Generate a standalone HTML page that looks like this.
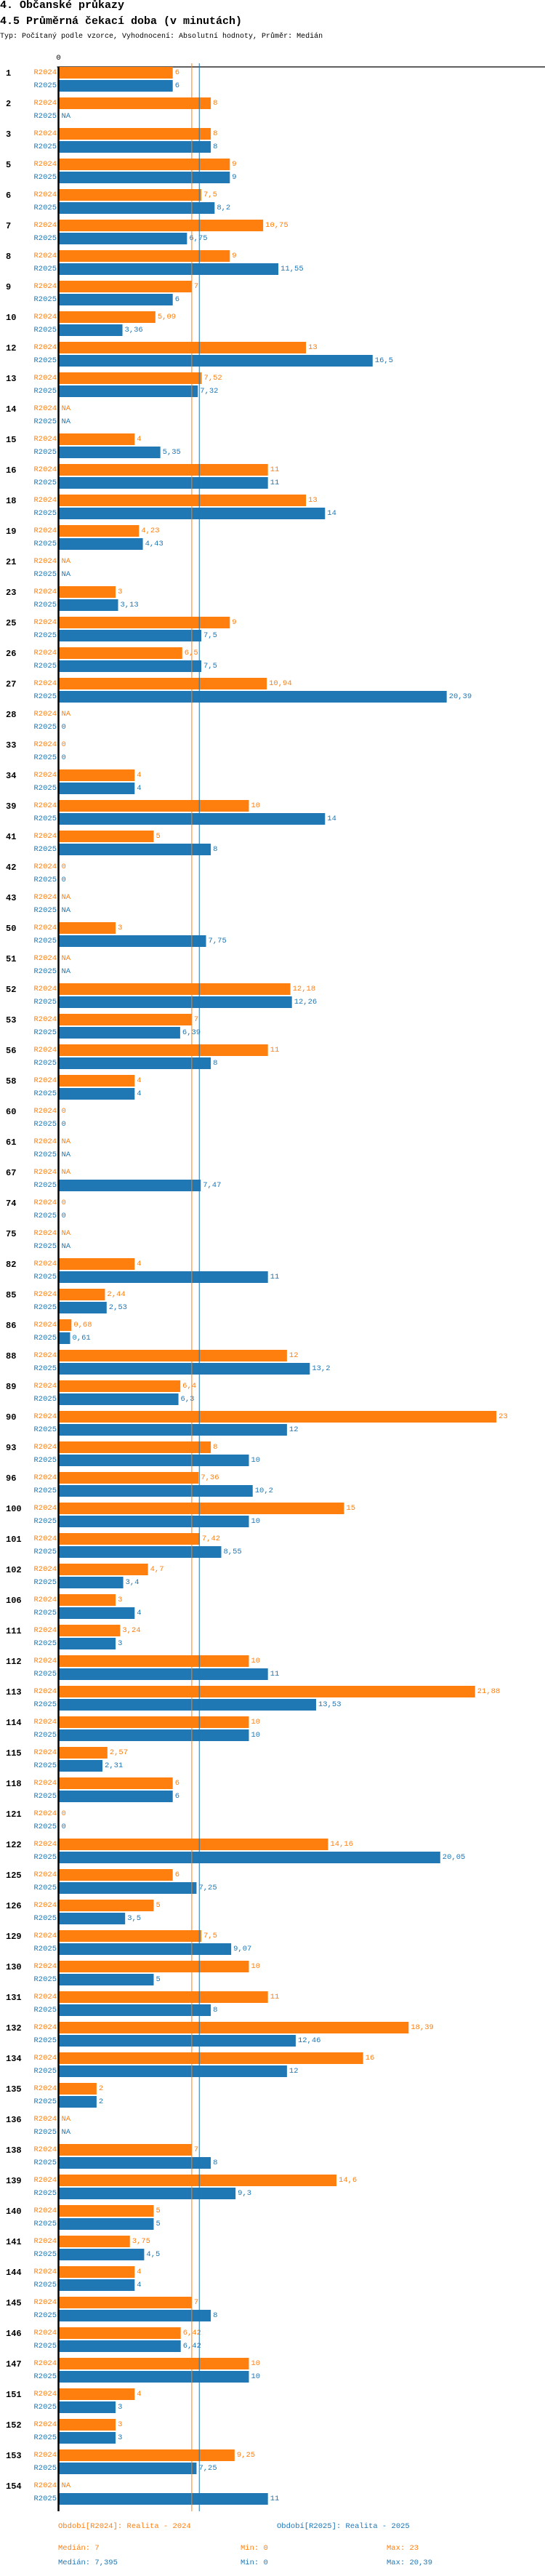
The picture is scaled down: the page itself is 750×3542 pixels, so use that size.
<!DOCTYPE html>
<html><head><meta charset="utf-8">
<style>
html,body{margin:0;padding:0;background:#fff;}
body{width:750px;height:3542px;overflow:hidden;position:relative;font-family:"Liberation Mono",monospace;}
.t{position:absolute;left:0;white-space:nowrap;}
</style></head>
<body>
<div class="t" style="top:-1px;font-size:15px;font-weight:bold;">4. Občanské průkazy</div>
<div class="t" style="top:21px;font-size:15px;font-weight:bold;">4.5 Průměrná čekací doba (v minutách)</div>
<div class="t" style="top:45px;font-size:10px;">Typ: Počítaný podle vzorce, Vyhodnocení: Absolutní hodnoty, Průměr: Medián</div>
<svg id="chart" width="750" height="3542" style="position:absolute;left:0;top:0;" xmlns="http://www.w3.org/2000/svg"></svg>
<script>
const categories = ["1","2","3","5","6","7","8","9","10","12","13","14","15","16","18","19","21","23","25","26","27","28","33","34","39","41","42","43","50","51","52","53","56","58","60","61","67","74","75","82","85","86","88","89","90","93","96","100","101","102","106","111","112","113","114","115","118","121","122","125","126","129","130","131","132","134","135","136","138","139","140","141","144","145","146","147","151","152","153","154"];
const values2024 = [6,8,8,9,7.5,10.75,9,7,5.09,13,7.52,null,4,11,13,4.23,null,3,9,6.5,10.94,null,0,4,10,5,0,null,3,null,12.18,7,11,4,0,null,null,0,null,4,2.44,0.68,12,6.4,23,8,7.36,15,7.42,4.7,3,3.24,10,21.88,10,2.57,6,0,14.16,6,5,7.5,10,11,18.39,16,2,null,7,14.6,5,3.75,4,7,6.42,10,4,3,9.25,null];
const values2025 = [6,null,8,9,8.2,6.75,11.55,6,3.36,16.5,7.32,null,5.35,11,14,4.43,null,3.13,7.5,7.5,20.39,0,0,4,14,8,0,null,7.75,null,12.26,6.39,8,4,0,null,7.47,0,null,11,2.53,0.61,13.2,6.3,12,10,10.2,10,8.55,3.4,4,3,11,13.53,10,2.31,6,0,20.05,7.25,3.5,9.07,5,8,12.46,12,2,null,8,9.3,5,4.5,4,8,6.42,10,3,3,7.25,11];
const seriesNames = ["R2024","R2025"];
const median2024 = 7, median2025 = 7.395;
const min2024 = 0, min2025 = 0, max2024 = 23, max2025 = 20.39;

const svg = document.getElementById('chart');
const NS = 'http://www.w3.org/2000/svg';
const colors = ['#ff7f0e','#1f77b4'];
const x0 = 80.5, unit = 26.2;
const xScale = v => x0 + v * unit;
const yCenter = i => 101 + 42 * i;
const fmt = v => v === null ? 'NA' : String(v).replace('.', ',');
function mk(tag, attrs){const e=document.createElementNS(NS,tag);for(const k in attrs)e.setAttribute(k,attrs[k]);svg.appendChild(e);return e;}
function txt(x,y,s,attrs){const e=mk('text',Object.assign({x:x,y:y,'dominant-baseline':'central','font-family':'Liberation Mono, monospace'},attrs));e.textContent=s;return e;}

const bottom = yCenter(categories.length-1) + 34;
// axis
let e = mk('line',{x1:x0-2,y1:92,x2:750,y2:92,stroke:'#000','stroke-width':1.2});


e = txt(x0,80,'0',{'font-size':10.5,'text-anchor':'middle',fill:'#000'});



const series = [values2024, values2025];
categories.forEach((c,i)=>{
  const yc = yCenter(i);
  let g = txt(8,yc,c,{'font-size':12,'font-weight':'bold',fill:'#000'});
  
  
  series.forEach((vals,s)=>{
    const top = yc - 9 + s*18;
    const mid = top + 8;
    let l = txt(78,mid,seriesNames[s],{'font-size':10.5,'text-anchor':'end',fill:colors[s]});
    
    
    const v = vals[i];
    let endX = x0 + 4;
    if (v !== null && v > 0){
      const r = mk('rect',{x:x0,y:top,width:xScale(v)-x0,height:16,fill:colors[s]});
      
      
      endX = xScale(v) + 3;
    }
    const t = txt(endX,mid,fmt(v),{'font-size':10.5,fill:colors[s]});
    
    
  });
});
// median lines
[[median2024,0],[median2025,1]].forEach(([m,s])=>{
  const ln = mk('line',{x1:xScale(m),y1:87,x2:xScale(m),y2:bottom,stroke:colors[s],'stroke-width':1});
  
  
});
e = mk('line',{x1:x0,y1:92,x2:x0,y2:bottom,stroke:'#000','stroke-width':2.5});



// legend
const lg = [
 [80,3474,'Období[R2024]: Realita - 2024',0,'legend-r2024'],
 [381,3474,'Období[R2025]: Realita - 2025',1,'legend-r2025'],
 [80,3504,'Medián: '+fmt(median2024),0,'median-r2024'],
 [331,3504,'Min: '+fmt(min2024),0,'min-r2024'],
 [532,3504,'Max: '+fmt(max2024),0,'max-r2024'],
 [80,3524,'Medián: '+fmt(median2025),1,'median-r2025'],
 [331,3524,'Min: '+fmt(min2025),1,'min-r2025'],
 [532,3524,'Max: '+fmt(max2025),1,'max-r2025']
];
lg.forEach(([x,y,s,c,n])=>{
  const t = txt(x,y,s,{'font-size':10.5,fill:colors[c]});
  
  
});
</script>
</body></html>
